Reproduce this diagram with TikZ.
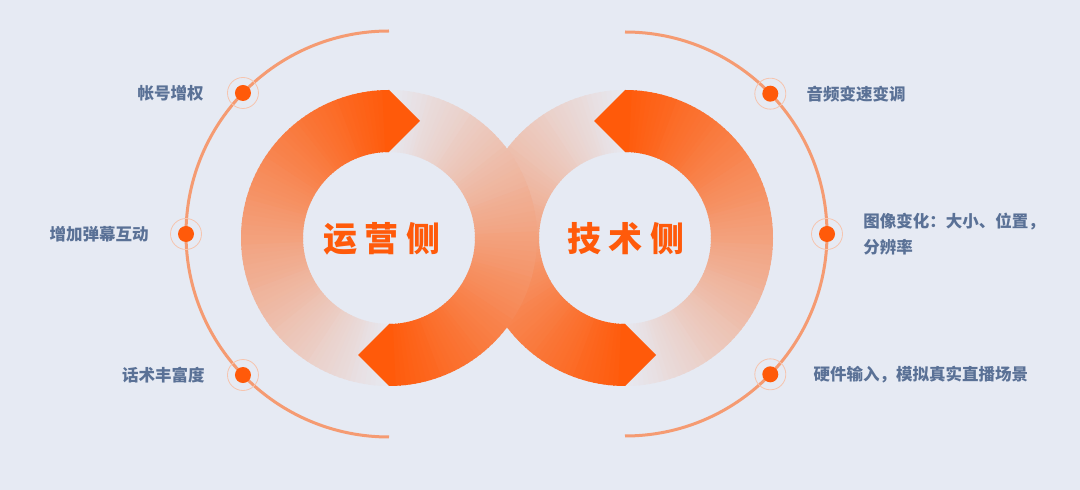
\documentclass[tikz,border=0pt]{standalone}
\usepackage{fontspec}
\newfontfamily\cjk{Noto Sans CJK SC}
\usetikzlibrary{positioning,calc}

\definecolor{hot}{HTML}{FF5A0A}
\definecolor{bgc}{HTML}{E6EAF3}
\definecolor{arcc}{HTML}{F59B72}
\definecolor{halo}{HTML}{F6C4AE}
\definecolor{txt}{HTML}{5A7196}

% fading tail of one ring arrow (center, rotation, mirror)
\newcommand{\ringtail}[3]{%
  \begin{scope}[shift={(#1)}, rotate=#2, xscale=#3]
    \foreach \d in {178,176,...,0}{
      \pgfmathtruncatemacro\p{100-\d/1.8}
      \fill[hot!\p!bgc] (90+\d:148) arc (90+\d:92.6+\d:148)
        -- (92.6+\d:86) arc (92.6+\d:90+\d:86) -- cycle;
    }
  \end{scope}}
% chevron head of one ring arrow
\newcommand{\ringhead}[3]{%
  \begin{scope}[shift={(#1)}, rotate=#2, xscale=#3]
    \fill[hot] (92:148) arc (92:90:148) -- (31,117) -- (90:86)
      arc (90:92:86) -- cycle;
  \end{scope}}

\begin{document}
\begin{tikzpicture}
  [
  x=1pt, y=1pt, line width=1pt,
  font=\cjk\bfseries\fontsize{16.5}{26}\selectfont,
  dot/.style={circle, inner sep=0pt, minimum size=31pt, draw=halo, line width=0.8pt,
    path picture={\fill[hot] (path picture bounding box.center) circle (8pt);}},
  lbl/.style={inner sep=0pt, text=txt},
  side/.style={text=hot, font=\cjk\bfseries\fontsize{34}{40}\selectfont},
  orbit/.style={draw=arcc, line width=3pt},
  ]

  \fill[bgc] (0,0) rectangle (1080,490);
  \useasboundingbox (0,0) rectangle (1080,490);

  \coordinate (lc) at (389,252);
  \coordinate (rc) at (625,252);
  \coordinate (la) at (389,256);
  \coordinate (ra) at (625,256);

  % rings
  \ringtail{rc}{0}{-1}
  \ringtail{rc}{180}{-1}
  \ringtail{lc}{0}{1}
  \ringtail{lc}{180}{1}
  \ringhead{rc}{0}{-1}
  \ringhead{rc}{180}{-1}
  \ringhead{lc}{0}{1}
  \ringhead{lc}{180}{1}

  % orbits
  \draw[orbit] ([shift={(90:203)}]la) arc (90:270:203);
  \draw[orbit] ([shift={(90:202)}]ra) arc (90:-90:202);

  % left side points
  \node[dot] (zh) at ([shift={(136:203)}]la) {};
  \node[dot] (dm) at ([shift={(180:203)}]la) {};
  \node[dot] (hs) at ([shift={(224:203)}]la) {};
  \node[lbl, left=23pt of zh] (zhl) {帐号增权};
  \node[lbl, left=21pt of dm] (dml) {增加弹幕互动};
  \node[lbl, left=22pt of hs] (hsl) {话术丰富度};

  % right side points
  \node[dot] (yp) at ([shift={(44:202)}]ra) {};
  \node[dot] (tx) at ([shift={(0:202)}]ra) {};
  \node[dot] (yj) at ([shift={(-44:202)}]ra) {};
  \node[lbl, right=20pt of yp] (ypl) {音频变速变调};
  \node[lbl, right=20pt of tx, align=left] (txl) {图像变化：大小、位置，\\分辨率};
  \node[lbl, right=27pt of yj] (yjl) {硬件输入，模拟真实直播场景};

  % ring titles
  \node[side] (yy) at (382,251) {运\hspace{7.5pt}营\hspace{7.5pt}侧};
  \node[side] (js) at (626,251) {技\hspace{7.5pt}术\hspace{7.5pt}侧};
\end{tikzpicture}
\end{document}
